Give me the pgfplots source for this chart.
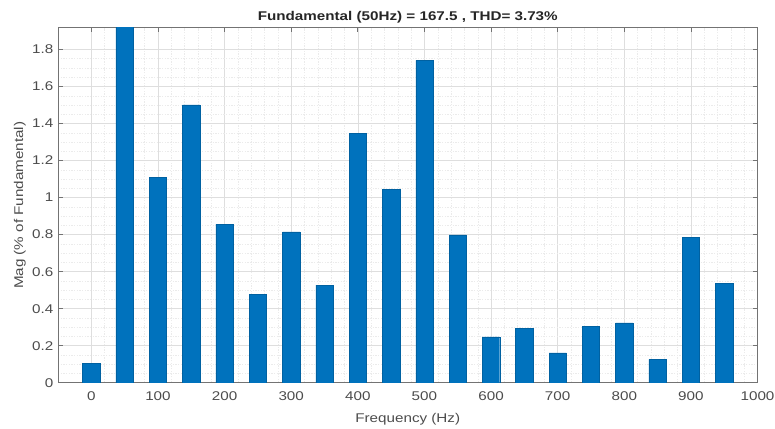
\documentclass[border=0pt]{standalone}
\usepackage{fontspec}
\setmainfont{Liberation Sans}[FakeStretch=1.2]
\usepackage{pgfplots}
\pgfplotsset{compat=1.18}
\definecolor{matblue}{RGB}{0,114,189}
\begin{document}
\begin{tikzpicture}
\begin{axis}[
  scale only axis,
  width=524.6pt, height=266.25pt,
  xmin=-50, xmax=1000, ymin=0, ymax=1.917,
  xtick={0,100,...,1000},
  ytick={0,0.2,...,1.8},
  minor x tick num=4,
  minor y tick num=3,
  grid=both,
  major grid style={line width=0.4pt, draw=black!13},
  minor grid style={line width=0.3pt, draw=black!8, dash pattern=on 1pt off 1pt},
  tick align=inside,
  major tick length=3.5pt,
  minor tick length=0pt,
  axis line style={draw=black!55, line width=0.5pt},
  every tick/.style={draw=black!55, line width=0.5pt},
  tick label style={font=\fontsize{9.5}{11}\selectfont, text=black!70},
  xticklabel style={yshift=-3pt},
  /pgf/number format/assume math mode=true,
  /pgf/number format/1000 sep={},
  xlabel={Frequency (Hz)},
  ylabel={Mag (\% of Fundamental)},
  label style={font=\fontsize{9.5}{11}\selectfont, text=black!70},
  xlabel style={yshift=-3pt},
  ylabel style={yshift=-2pt},
  title={\textbf{Fundamental (50Hz) = 167.5 , THD= 3.73\%}},
  title style={font=\fontsize{9.5}{11}\selectfont, text=black!85, yshift=-6pt},
]
\addplot[ybar, bar width=26, bar shift=0pt, fill=matblue, draw=matblue!85!black, line width=0.3pt]
coordinates {
(0,0.105) (50,100) (100,1.109) (150,1.501) (200,0.857) (250,0.479)
(300,0.815) (350,0.527) (400,1.347) (450,1.044) (500,1.741) (550,0.799)
(600,0.248) (650,0.295) (700,0.162) (750,0.306) (800,0.324) (850,0.126)
(900,0.785) (950,0.535)
};
\coordinate (SW) at (rel axis cs:0,0);
\coordinate (NE) at (rel axis cs:1,1);
\end{axis}
\pgfresetboundingbox
\path ([xshift=-43.5pt,yshift=-34pt]SW) rectangle ([xshift=13.1pt,yshift=20.8pt]NE);
\end{tikzpicture}
\end{document}
